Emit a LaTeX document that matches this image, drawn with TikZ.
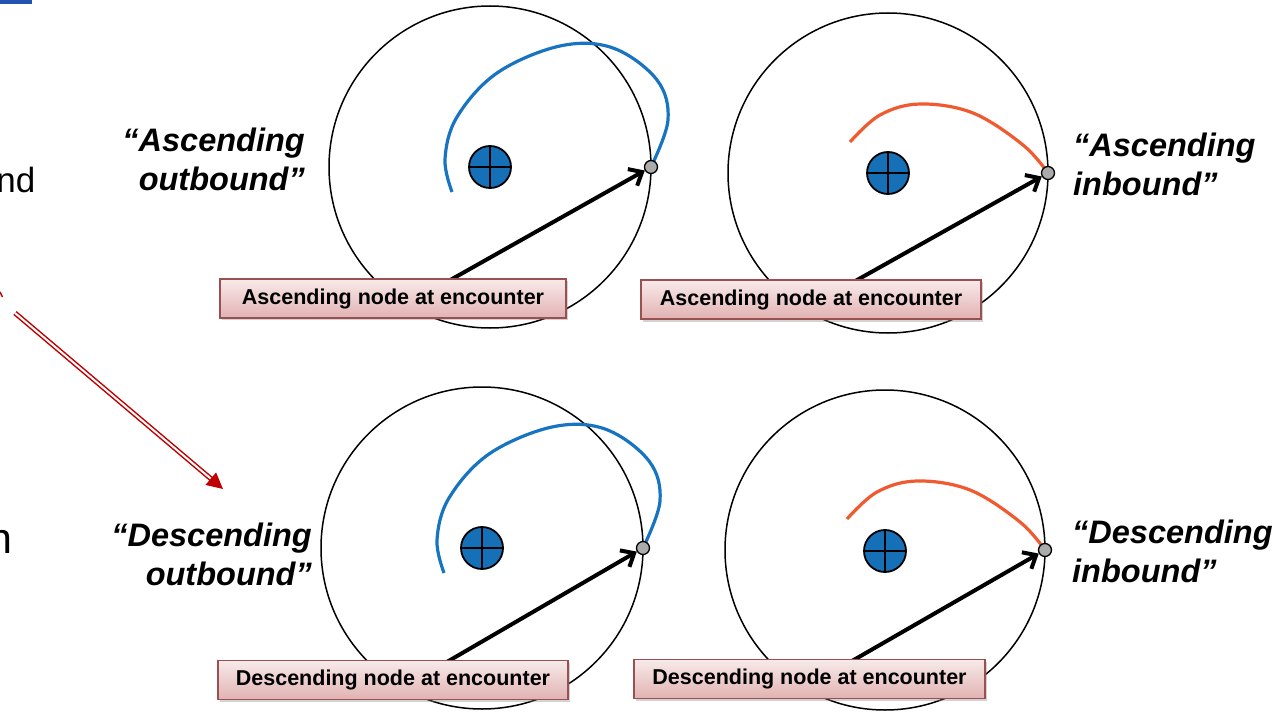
\documentclass[tikz,border=0pt]{standalone}
\usepackage{fontspec}
\setmainfont{Liberation Sans}
\usetikzlibrary{arrows.meta,shadows}
\definecolor{orbblue}{HTML}{1874C0}
\definecolor{orbred}{HTML}{F05A30}
\definecolor{earthblue}{HTML}{1670B8}
\definecolor{boxedge}{HTML}{9A5050}
\definecolor{boxtop}{HTML}{F8EAEA}
\definecolor{boxbot}{HTML}{E2B2B2}
\definecolor{darkred}{HTML}{C00000}
\definecolor{barblue}{HTML}{2452B0}
\tikzset{
 earth/.style={circle, draw=black, line width=1.8pt, fill=earthblue, minimum size=42pt, inner sep=0pt},
 encdot/.style={circle, draw=black, line width=1.3pt, fill=black!33, minimum size=13pt, inner sep=0pt},
 orbitcirc/.style={draw=black, line width=1.5pt},
 outcurve/.style={draw=orbblue, line width=3.2pt},
 incurve/.style={draw=orbred, line width=3.2pt},
 vec/.style={draw=black, line width=4pt, -{Straight Barb[length=11pt,width=19pt]}},
 crossline/.style={draw=black, line width=2.8pt},
 encbox/.style={draw=boxedge, line width=1.4pt, top color=boxtop, bottom color=boxbot,
   drop shadow={shadow xshift=2pt, shadow yshift=-2.5pt, opacity=0.35},
   font=\fontsize{21.5}{24}\selectfont\bfseries, inner sep=0pt, minimum height=39pt},
 quotetext/.style={font=\fontsize{32.5}{39}\selectfont\bfseries\itshape, inner sep=0pt},
 sidetext/.style={inner sep=0pt},
}
\begin{document}
\begin{tikzpicture}[x=1pt,y=-1pt]
\useasboundingbox (0,0) rectangle (1286,714);
% fragments at the left edge
\fill[barblue] (0,0) rectangle (32,4);
\node[sidetext, anchor=base east, font=\fontsize{35}{38}\selectfont] (s1) at (35.5,193) {nd};
\node[sidetext, anchor=base east, font=\fontsize{43}{45}\selectfont] (s2) at (12.5,553) {n};
\draw[darkred, line width=1.4pt] (0,292) -- (2.5,297);
\coordinate (r1) at (15,313);
\coordinate (r2) at (223,489);
\draw[draw=darkred, double=white, line width=1.5pt, double distance=2pt, -{Triangle[length=16pt,width=16pt]}] (r1) -- (r2);

% ---------- panel 1: ascending outbound ----------
\draw[orbitcirc] (490,167) circle[radius=161];
\begin{scope}[shift={(490,167)}]
\draw[outcurve] plot[smooth, tension=0.6] coordinates {(-38,25) (-45,-8) (-33,-50) (7,-94) (70,-121) (123,-119) (167,-87) (178,-47) (161,0)};
\end{scope}
\node[encdot] (p1) at (651,167) {};
\coordinate (a1) at (445,283);
\draw[vec] (a1) -- (p1);
\node[earth] (e1) at (490,167) {};
\draw[crossline] (e1.north) -- (e1.south) (e1.west) -- (e1.east);
\node[encbox, minimum width=346pt] (b1) at (393,298.5) {Ascending node at encounter};
\node[quotetext, anchor=east, align=right] (q1) at (305,159.5) {“Ascending\\outbound”};

% ---------- panel 2: ascending inbound ----------
\draw[orbitcirc] (888,173) circle[radius=160];
\begin{scope}[shift={(888,173)}]
\draw[incurve] plot[smooth, tension=0.6] coordinates {(-38,-31) (-8,-58) (32,-69) (85,-60) (135,-28) (160,0)};
\end{scope}
\node[encdot] (p2) at (1048,173) {};
\coordinate (a2) at (850,284);
\draw[vec] (a2) -- (p2);
\node[earth] (e2) at (888,173) {};
\draw[crossline] (e2.north) -- (e2.south) (e2.west) -- (e2.east);
\node[encbox, minimum width=340pt] (b2) at (811,299.5) {Ascending node at encounter};
\node[quotetext, anchor=west, align=left] (q2) at (1073,164.5) {“Ascending\\inbound”};

% ---------- panel 3: descending outbound ----------
\draw[orbitcirc] (482,548) circle[radius=161];
\begin{scope}[shift={(482,548)}]
\draw[outcurve] plot[smooth, tension=0.6] coordinates {(-38,25) (-45,-8) (-33,-50) (7,-94) (70,-121) (123,-119) (167,-87) (178,-47) (161,0)};
\end{scope}
\node[encdot] (p3) at (643,548) {};
\coordinate (a3) at (440,666);
\draw[vec] (a3) -- (p3);
\node[earth] (e3) at (482,548) {};
\draw[crossline] (e3.north) -- (e3.south) (e3.west) -- (e3.east);
\node[encbox, minimum width=350pt] (b3) at (393,680) {Descending node at encounter};
\node[quotetext, anchor=east, align=right] (q3) at (312,554) {“Descending\\outbound”};

% ---------- panel 4: descending inbound ----------
\draw[orbitcirc] (885,550) circle[radius=160];
\begin{scope}[shift={(885,550)}]
\draw[incurve] plot[smooth, tension=0.6] coordinates {(-38,-31) (-8,-58) (32,-69) (85,-60) (135,-28) (160,0)};
\end{scope}
\node[encdot] (p4) at (1045,550) {};
\coordinate (a4) at (845,665);
\draw[vec] (a4) -- (p4);
\node[earth] (e4) at (885,551) {};
\draw[crossline] (e4.north) -- (e4.south) (e4.west) -- (e4.east);
\node[encbox, minimum width=351pt] (b4) at (809.5,679) {Descending node at encounter};
\node[quotetext, anchor=west, align=left] (q4) at (1072,551) {“Descending\\inbound”};
\end{tikzpicture}
\end{document}
